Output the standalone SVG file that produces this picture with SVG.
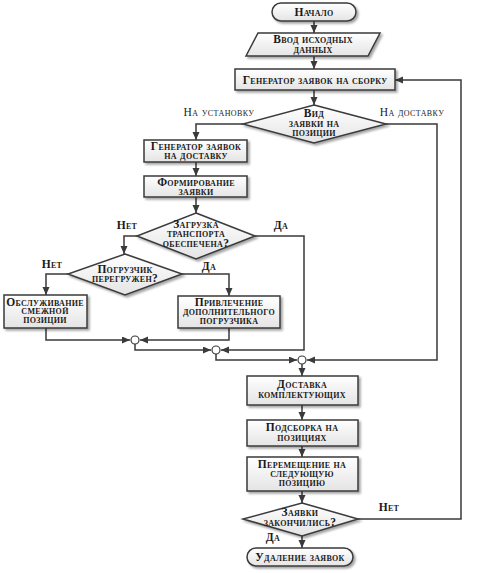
<svg xmlns="http://www.w3.org/2000/svg" width="494" height="573" viewBox="0 0 494 573">
<defs>
<linearGradient id="g" x1="0" y1="0" x2="0" y2="1">
<stop offset="0" stop-color="#ffffff"/>
<stop offset="1" stop-color="#e4e4e4"/>
</linearGradient>
<filter id="sh" x="-10%" y="-20%" width="130%" height="160%">
<feDropShadow dx="2" dy="2" stdDeviation="1.2" flood-color="#000" flood-opacity="0.35"/>
</filter>
<marker id="ar" markerWidth="9" markerHeight="8" refX="8" refY="3.5" orient="auto" markerUnits="userSpaceOnUse">
<path d="M0,0 L8,3.5 L0,7 Z" fill="#3a3a3a"/>
</marker>
<style>
.n{fill:url(#g);stroke:#3a3a3a;stroke-width:1.5;filter:url(#sh)}
.t{font-family:"Liberation Serif",serif;font-weight:bold;font-variant:small-caps;font-size:11.5px;letter-spacing:0.3px;fill:#1a1a1a;text-anchor:middle}
.l{font-family:"Liberation Serif",serif;font-variant:small-caps;font-size:11.5px;letter-spacing:0.4px;fill:#1a1a1a;text-anchor:middle}
.lb{font-family:"Liberation Serif",serif;font-weight:bold;font-variant:small-caps;font-size:11.5px;letter-spacing:0.3px;fill:#1a1a1a;text-anchor:middle}
.c{fill:none;stroke:#3a3a3a;stroke-width:1.5}
.a{marker-end:url(#ar)}
.j{fill:#fff;stroke:#3a3a3a;stroke-width:1.2}
</style>
</defs>

<g id="connectors">
<path class="c a" d="M314,21 V33"/>
<path class="c a" d="M314,56 V69"/>
<path class="c a" d="M314,90 V105"/>
<path class="c a" d="M243,124 H196 V140"/>
<path class="c a" d="M386,124 H437 V360 H307"/>
<path class="c a" d="M196,162 V176"/>
<path class="c a" d="M196,197 V213"/>
<path class="c a" d="M137,236 H124 V254"/>
<path class="c a" d="M255,236 H304 V350 H221"/>
<path class="c a" d="M68,274 H46 V295"/>
<path class="c a" d="M182,274 H229 V296"/>
<path class="c a" d="M46,328 V340 H130"/>
<path class="c a" d="M229,319 V340 H140"/>
<path class="c a" d="M135,344 V350 H211"/>
<path class="c a" d="M216,354 V360 H297"/>
<path class="c a" d="M302,364 V376"/>
<path class="c a" d="M302,405 V420"/>
<path class="c a" d="M302,446 V457"/>
<path class="c a" d="M302,491 V503"/>
<path class="c a" d="M358,519 H461 V80 H395"/>
<path class="c a" d="M302,536 V548"/>
<circle class="j" cx="135" cy="340" r="4"/>
<circle class="j" cx="216" cy="350" r="4"/>
<circle class="j" cx="302" cy="360" r="4"/>
</g>

<g id="start">
<rect class="n" x="272" y="3" width="84" height="18" rx="9"/>
<text class="t" x="314" y="16">Начало</text>
</g>

<g id="input">
<polygon class="n" points="258,33 380,33 368,56 246,56"/>
<text class="t" x="313" y="43">Ввод исходных<tspan x="313" dy="10">данных</tspan></text>
</g>

<g id="gen-assembly">
<rect class="n" x="235" y="69" width="160" height="21"/>
<text class="t" x="315" y="83.5">Генератор заявок на сборку</text>
</g>

<g id="kind">
<polygon class="n" points="314,105 386,124 314,143 243,124"/>
<text class="t" x="314" y="117">Вид<tspan x="314" dy="9.5">заявки на</tspan><tspan x="314" dy="9.5">позиции</tspan></text>
</g>

<g id="gen-delivery">
<rect class="n" x="144" y="140" width="103" height="22"/>
<text class="t" x="196" y="149.5">Генератор заявок<tspan x="196" dy="9.5">на доставку</tspan></text>
</g>

<g id="form">
<rect class="n" x="144" y="176" width="103" height="21"/>
<text class="t" x="196" y="185.5">Формирование<tspan x="196" dy="9.5">заявки</tspan></text>
</g>

<g id="loaded">
<polygon class="n" points="196,213 255,236 196,259 137,236"/>
<text class="t" x="196" y="228">Загрузка<tspan x="196" dy="9.3">транспорта</tspan><tspan x="196" dy="9.3">обеспечена?</tspan></text>
</g>

<g id="loader">
<polygon class="n" points="125,254 182,274 125,295 68,274"/>
<text class="t" x="125" y="273">Погрузчик<tspan x="125" dy="8.8">перегружен?</tspan></text>
</g>

<g id="serve">
<rect class="n" x="4" y="295" width="83" height="33"/>
<text class="t" x="45" y="305.5">Обслуживание<tspan x="45" dy="8.8">смежной</tspan><tspan x="45" dy="8.8">позиции</tspan></text>
</g>

<g id="extra">
<rect class="n" x="178" y="296" width="102" height="32"/>
<text class="t" x="229" y="305.5">Привлечение<tspan x="229" dy="9.3">дополнительного</tspan><tspan x="229" dy="9.3">погрузчика</tspan></text>
</g>

<g id="deliver">
<rect class="n" x="247" y="376" width="111" height="29"/>
<text class="t" x="302" y="388">Доставка<tspan x="302" dy="9.5">комплектующих</tspan></text>
</g>

<g id="subassembly">
<rect class="n" x="247" y="420" width="111" height="26"/>
<text class="t" x="302" y="431">Подсборка на<tspan x="302" dy="9.5">позициях</tspan></text>
</g>

<g id="move">
<rect class="n" x="247" y="457" width="111" height="34"/>
<text class="t" x="302" y="467.5">Перемещение на<tspan x="302" dy="9.3">следующую</tspan><tspan x="302" dy="9.3">позицию</tspan></text>
</g>

<g id="done">
<polygon class="n" points="302,503 358,519 302,536 243,519"/>
<text class="t" x="300" y="516">Заявки<tspan x="300" dy="9.5">закончились?</tspan></text>
</g>

<g id="end">
<rect class="n" x="247" y="548" width="106" height="18" rx="9"/>
<text class="t" x="300" y="561">Удаление заявок</text>
</g>

<g id="labels">
<text class="l" x="219" y="116">На установку</text>
<text class="l" x="412" y="116">На доставку</text>
<text class="lb" x="127" y="229">Нет</text>
<text class="lb" x="281" y="229">Да</text>
<text class="lb" x="52" y="268">Нет</text>
<text class="lb" x="209" y="270">Да</text>
<text class="lb" x="389" y="511">Нет</text>
<text class="lb" x="273" y="541">Да</text>
</g>
</svg>
